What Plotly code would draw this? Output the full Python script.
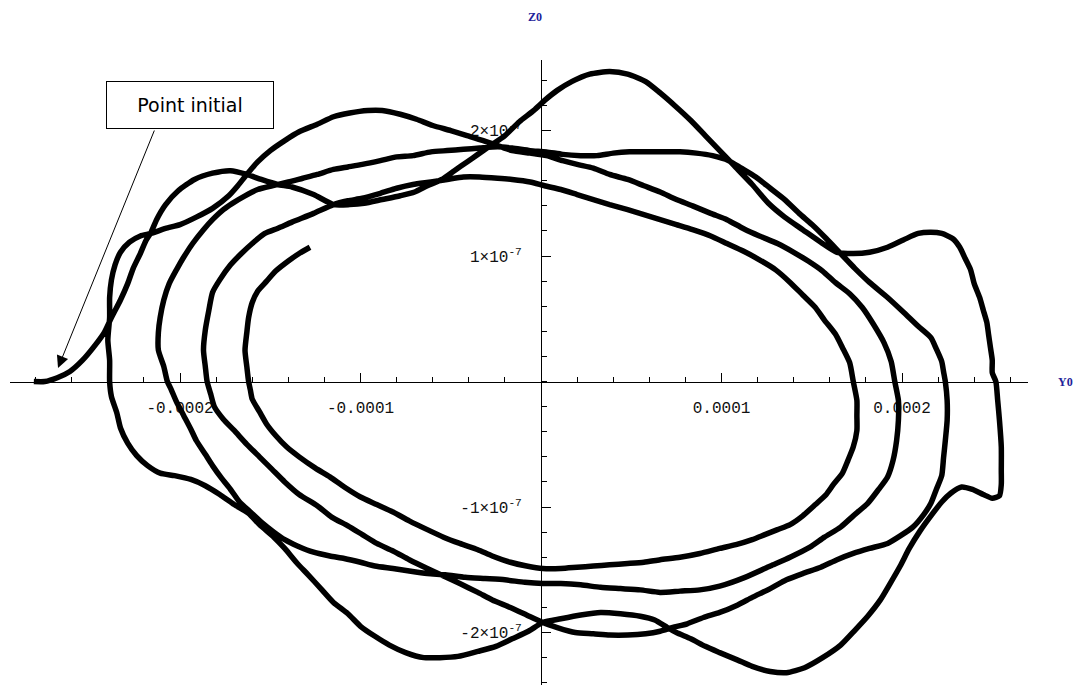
import plotly.graph_objects as go
import numpy as np

# Trajectory (Y0, Z0), in order from the initial point
# Y0 in units of 1e-6, Z0 in units of 1e-9
Y0_MICRO = [
    -281, -275, -268, -261, -254, -247, -242, -238, -233, -229, -226, -222, -219, -216,
    -213, -208, -201, -192, -182, -172, -163,
    -155, -146, -138, -126, -115,
    -106, -98, -88, -78, -70, -63, -55, -48, -41, -35, -28, -20, -12, -4, 2, 9, 17, 27, 38, 48,
    58, 66, 74, 83, 91, 99, 107, 117, 126, 135, 145, 155, 164,
    173, 182, 192, 201, 209, 216, 222, 228, 232, 235, 238, 240, 243, 245, 247, 248, 249, 250, 250, 252,
    253, 254, 255, 255, 255, 254, 250, 245, 239, 233, 227, 222, 216, 210, 204, 199, 193, 188, 181, 174,
    166, 156, 146, 136, 127, 117, 109, 99, 91, 83, 75, 70,
    63, 55, 44, 33, 22, 11, 1, -7, -16, -25, -35, -46, -56, -65, -75, -84, -92, -100, -107, -115,
    -122, -129, -135, -142, -148, -156, -162, -170, -178, -186, -194, -203, -211, -218, -224, -229,
    -233, -235, -238, -239, -239, -240, -239, -239, -238, -236, -233, -228, -222, -216,
    -208, -200, -191, -182, -173, -168, -163,
    -157, -150, -142, -134, -124, -115, -106, -96, -88, -78, -69, -60, -50, -41, -32, -24, -16, -6, 3, 12,
    20, 29, 38, 48, 57, 66, 75, 84, 94, 103, 112, 121, 131, 140, 148, 156, 163, 171, 178, 184,
    190, 194, 196, 198, 198, 197, 195, 192, 187, 181, 173, 166, 157, 149, 138, 127, 113, 99, 88, 77,
    66, 55, 44, 33, 22, 11, 1, -9, -20, -31, -42, -53, -63, -73, -82, -92, -100, -109, -117, -126,
    -135, -142, -148, -155, -161, -167, -172, -177, -182, -186, -191, -194, -198, -202, -205, -207,
    -209, -212, -212, -211, -209, -206, -202, -198, -193, -187, -182, -176, -171, -164, -157, -149,
    -140, -132, -124, -115, -107, -99, -89, -80, -71, -61, -52, -43, -34, -24, -16, -6, 3, 12, 22, 31,
    40, 49, 59, 68, 77, 86, 95, 104, 111, 119, 127, 135, 143, 151, 158, 166, 174, 182, 192, 201,
    209, 216, 219, 222, 223, 224, 225, 225, 224, 223, 222, 219, 216, 212, 206, 199, 192, 182, 173, 164,
    155, 145, 136, 127, 117, 109, 99, 90, 81, 73,
    66, 58, 48, 38, 29, 19, 9, 1, -8, -17, -27, -35, -45, -54, -63, -73, -82, -91, -99, -107,
    -116, -124, -134, -142, -149, -156, -163, -170, -176, -181, -183, -185, -186, -187, -186, -184,
    -182, -178, -172, -166, -160, -153, -146, -138, -126, -115, -107, -99, -89, -80, -71, -61, -52,
    -43, -34, -24, -16, -6, 2, 11, 20, 29, 38, 48, 57, 66, 75, 84, 94, 103, 112, 121, 130, 138, 145,
    152, 157, 163, 167, 171, 173, 175, 175, 175, 173, 170, 167, 162, 158, 152, 145, 138, 131, 124,
    117, 108, 99, 88, 77, 66, 57, 48, 38, 29, 20, 11, 1, -8, -17, -27, -35, -45, -54, -63, -73, -82,
    -91, -100, -109, -117, -125, -134, -141, -147, -152, -156, -160, -161, -162, -163, -164, -163,
    -162, -160, -157, -152, -147, -140, -134, -128,
]
Z0_NANO = [
    0, 0, 3, 8, 17, 29, 39, 51, 65, 78, 90, 102, 112, 119,
    129, 141, 152, 161, 166, 168, 165,
    161, 157, 155, 149, 141,
    141, 142, 145, 148, 151, 156, 161, 168, 175, 181, 188, 196, 207, 216, 224, 232, 239, 245, 247, 245,
    239, 230, 220, 208, 196, 184, 172, 157, 142, 131, 121, 111, 103,
    102, 103, 107, 113, 118, 119, 118, 114, 107, 98, 89, 78, 67, 57, 47, 37, 27, 17, 7, 0,
    -15, -31, -52, -71, -82, -91, -93, -90, -86, -84, -89, -96, -107, -119, -133, -147, -162, -174, -187, -198,
    -210, -220, -228, -232, -231, -227, -222, -216, -211, -205, -200, -196,
    -190, -187, -185, -184, -186, -189, -192, -199, -205, -211, -215, -219, -220, -220, -216, -210, -203, -195, -185, -176,
    -165, -154, -145, -133, -124, -114, -105, -98, -90, -83, -78, -75, -73, -67, -59, -49,
    -37, -25, -12, 0, 17, 33, 51, 67, 81, 93, 103, 111, 116, 118,
    122, 125, 131, 138, 148, 156, 165,
    175, 184, 192, 199, 205, 211, 214, 216, 216, 213, 209, 204, 200, 196, 192, 188, 184, 182, 180, 176,
    173, 170, 165, 161, 156, 151, 145, 140, 134, 129, 122, 116, 110, 103, 96, 88, 79, 70, 59, 46,
    31, 16, 0, -15, -31, -47, -63, -76, -86, -97, -107, -116, -124, -132, -140, -147, -156, -163, -166, -167,
    -168, -166, -165, -164, -162, -161, -161, -160, -158, -157, -156, -154, -153, -151, -149, -147, -144, -141, -139, -136,
    -131, -126, -120, -112, -104, -96, -86, -77, -67, -58, -47, -38, -27, -16, -6, 0,
    12, 25, 39, 51, 65, 78, 89, 99, 110, 121, 129, 137, 142, 148, 153, 156,
    159, 162, 165, 169, 171, 173, 176, 179, 180, 183, 184, 185, 186, 187, 186, 184, 183, 181, 180, 180,
    182, 183, 183, 183, 183, 182, 180, 176, 170, 163, 154, 145, 134, 124, 114, 102, 90, 79, 67, 55,
    44, 35, 26, 16, 8, 0, -15, -31, -47, -61, -75, -86, -97, -106, -116, -123, -129, -133, -137, -142,
    -148, -153, -158, -165, -172, -178, -184, -188, -193, -196,
    -199, -201, -202, -202, -201, -200, -196, -192, -186, -180, -174, -168, -161, -155, -149, -142, -135, -129, -122, -115,
    -108, -99, -90, -80, -70, -60, -50, -39, -30, -20, -10, 0, 12, 25, 41, 57,
    71, 81, 93, 102, 110, 118, 122, 127, 134, 141, 144, 146, 150, 154, 157, 159, 161,
    163, 163, 162, 161, 159, 156, 153, 149, 145, 141, 137, 133, 129, 125, 121, 116, 110, 104, 97, 89, 79, 69, 59,
    49, 38, 27, 15, 0, -15, -27, -39, -52, -63, -73, -82, -90, -98, -107, -114, -118, -122, -126,
    -130, -133, -137, -140, -142, -144, -145, -146, -147, -148, -149, -149, -147, -144, -139, -134, -129, -124, -118, -111, -104,
    -98, -92, -84, -76, -69, -60, -52, -43, -34, -24, -14, -7, 0, 12,
    25, 39, 51, 63, 72, 80, 88, 96, 102, 107,
]

X_TICK_VALS = [-0.0002, -0.0001, 0.0001, 0.0002]
X_TICK_TEXT = ["-0.0002", "-0.0001", "0.0001", "0.0002"]
Y_TICK_VALS = [-2e-7, -1e-7, 1e-7, 2e-7]
Y_TICK_TEXT = ["-2×10<sup>-7</sup>", "-1×10<sup>-7</sup>", "1×10<sup>-7</sup>", "2×10<sup>-7</sup>"]
X_MINOR_STEP = 2e-5
Y_MINOR_STEP = 2e-8
X_RANGE = [-2.942e-4, 2.698e-4]
Y_RANGE = [-2.418e-7, 2.562e-7]

ARROW_HEAD = (-2.676e-4, 1.08e-8)
ARROW_TAIL = (-2.139e-4, 2.012e-7)
LABEL_BOX = (-1.945e-4, 2.203e-7)

y0 = np.array(Y0_MICRO) * 1e-6
z0 = np.array(Z0_NANO) * 1e-9

fig = go.Figure()
fig.add_trace(go.Scatter(
    x=y0, y=z0, mode="lines",
    line=dict(color="black", width=5.5, shape="spline", smoothing=0.6),
    hoverinfo="skip", showlegend=False,
))

xpos = (0 - Y_RANGE[0]) / (Y_RANGE[1] - Y_RANGE[0])
ypos = (0 - X_RANGE[0]) / (X_RANGE[1] - X_RANGE[0])

tickfont = dict(family="Liberation Mono", size=16, color="#111111")

fig.update_layout(
    width=1082, height=686,
    margin=dict(l=10, r=54, t=60, b=1),
    paper_bgcolor="white", plot_bgcolor="white",
    showlegend=False,
    hovermode=False,
    xaxis=dict(
        range=X_RANGE, anchor="free", position=xpos, side="bottom",
        showline=True, linecolor="black", linewidth=1,
        showgrid=False, zeroline=False, layer="below traces",
        tickmode="array", tickvals=X_TICK_VALS, ticktext=X_TICK_TEXT,
        ticks="inside", ticklen=9, tickwidth=1, tickcolor="black",
        tickfont=tickfont, ticklabelstandoff=11,
        minor=dict(tickmode="linear", tick0=0, dtick=X_MINOR_STEP, ticks="inside",
                   ticklen=5, tickwidth=1, tickcolor="black", showgrid=False),
    ),
    yaxis=dict(
        range=Y_RANGE, anchor="free", position=ypos, side="left",
        showline=True, linecolor="black", linewidth=1,
        showgrid=False, zeroline=False, layer="below traces",
        tickmode="array", tickvals=Y_TICK_VALS, ticktext=Y_TICK_TEXT,
        ticks="inside", ticklen=9, tickwidth=1, tickcolor="black",
        tickfont=tickfont, ticklabelstandoff=16,
        minor=dict(tickmode="linear", tick0=0, dtick=Y_MINOR_STEP, ticks="inside",
                   ticklen=5, tickwidth=1, tickcolor="black", showgrid=False),
    ),
)

fig.add_annotation(
    x=X_RANGE[1], y=0, xref="x", yref="y", xanchor="left", yanchor="middle",
    xshift=28, text="<b>Y0</b>", showarrow=False,
    font=dict(family="Liberation Serif", size=12, color="#22229a"),
)
fig.add_annotation(
    x=0, y=Y_RANGE[1], xref="x", yref="y", xanchor="center", yanchor="bottom",
    xshift=-6, yshift=34, text="<b>Z0</b>", showarrow=False,
    font=dict(family="Liberation Serif", size=12, color="#22229a"),
)
fig.add_annotation(
    x=LABEL_BOX[0], y=LABEL_BOX[1], xref="x", yref="y",
    text="Point initial", showarrow=False,
    font=dict(family="DejaVu Sans", size=19, color="black"),
    bgcolor="white", bordercolor="black", borderwidth=1, borderpad=0,
    width=166, height=46,
)
fig.add_annotation(
    x=ARROW_HEAD[0], y=ARROW_HEAD[1], xref="x", yref="y",
    ax=ARROW_TAIL[0], ay=ARROW_TAIL[1], axref="x", ayref="y",
    text="", showarrow=True, arrowhead=2, arrowsize=2.4, arrowwidth=1,
    arrowcolor="black", standoff=0, startstandoff=0,
)

fig.write_html(
    "out.html",
    config={"displayModeBar": False, "staticPlot": True},
    post_script="document.body.style.margin='0';document.body.style.overflow='hidden';",
)
